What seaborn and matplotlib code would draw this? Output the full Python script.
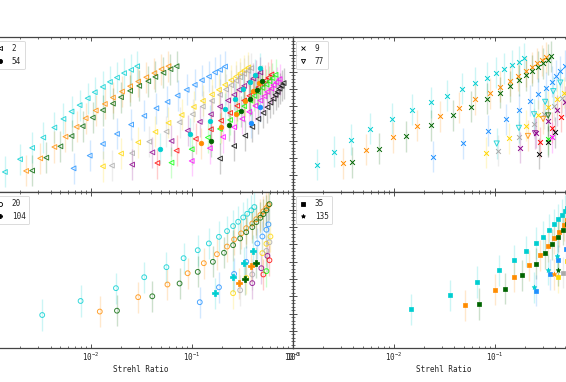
import numpy as np
import seaborn as sns
import matplotlib.pyplot as plt
from matplotlib.lines import Line2D
from matplotlib.ticker import MultipleLocator, AutoMinorLocator

# series colours (same order in every panel)
cyan, orange, green, blue, gold = 'darkturquoise', 'darkorange', 'darkgreen', 'dodgerblue', 'gold'
gray, purple, red, lime, mag, black = 'darkgray', 'darkmagenta', 'red', 'lime', 'magenta', 'black'

# ---- top left: hollow '<' (2) and filled 'o' (54); x = log10(Strehl ratio)
tl_tri_colors = [cyan, orange, green, blue, gold, gray, purple, red, lime, mag, black]
tl_tri_logsr = [
    [-2.85, -2.70, -2.58, -2.47, -2.36, -2.27, -2.19, -2.11, -2.03, -1.96, -1.88, -1.81, -1.74, -1.67, -1.60, -1.54],
    [-2.64, -2.50, -2.36, -2.25, -2.14, -2.05, -1.95, -1.86, -1.78, -1.69, -1.61, -1.53, -1.45, -1.37, -1.30, -1.23],
    [-2.58, -2.44, -2.30, -2.19, -2.08, -1.98, -1.88, -1.78, -1.70, -1.61, -1.52, -1.43, -1.36, -1.28, -1.21, -1.15],
    [-2.17, -2.01, -1.88, -1.74, -1.60, -1.47, -1.35, -1.24, -1.14, -1.05, -0.97, -0.90, -0.83, -0.77, -0.72, -0.67],
    [-1.88, -1.70, -1.53, -1.36, -1.23, -1.10, -0.98, -0.89, -0.80, -0.73, -0.67, -0.61, -0.56, -0.52, -0.48, -0.44],
    [-1.79, -1.59, -1.42, -1.25, -1.12, -0.99, -0.89, -0.80, -0.72, -0.66, -0.61, -0.56, -0.52, -0.48, -0.44, -0.41],
    [-1.59, -1.39, -1.20, -1.04, -0.92, -0.81, -0.72, -0.64, -0.58, -0.53, -0.48, -0.43, -0.39, -0.36, -0.32],
    [-1.34, -1.15, -0.96, -0.81, -0.71, -0.62, -0.55, -0.48, -0.43, -0.38, -0.34, -0.30, -0.27, -0.24, -0.21],
    [-1.20, -1.00, -0.84, -0.72, -0.62, -0.55, -0.48, -0.42, -0.38, -0.34, -0.30, -0.26, -0.23, -0.20, -0.17],
    [-1.00, -0.82, -0.69, -0.58, -0.50, -0.43, -0.37, -0.32, -0.28, -0.25, -0.21, -0.19, -0.16, -0.13],
    [-0.72, -0.58, -0.47, -0.40, -0.34, -0.29, -0.25, -0.22, -0.19, -0.17, -0.15, -0.13, -0.11, -0.09],
]
tl_tri_y = [
    [1.18, 1.92, 2.58, 3.18, 3.76, 4.26, 4.69, 5.06, 5.46, 5.81, 6.12, 6.41, 6.66, 6.92, 7.11, 7.32],
    [1.24, 1.97, 2.63, 3.23, 3.80, 4.30, 4.75, 5.13, 5.50, 5.85, 6.16, 6.43, 6.68, 6.92, 7.15, 7.32],
    [1.26, 2.01, 2.67, 3.27, 3.84, 4.34, 4.77, 5.15, 5.52, 5.89, 6.18, 6.45, 6.70, 6.94, 7.15, 7.32],
    [1.39, 2.13, 2.81, 3.39, 3.93, 4.44, 4.88, 5.25, 5.62, 5.95, 6.24, 6.51, 6.72, 6.96, 7.11, 7.30],
    [1.51, 2.25, 2.90, 3.51, 4.03, 4.49, 4.96, 5.31, 5.68, 5.95, 6.24, 6.51, 6.72, 6.92, 7.09, 7.25],
    [1.55, 2.27, 2.94, 3.52, 4.07, 4.53, 4.98, 5.31, 5.66, 5.97, 6.22, 6.47, 6.68, 6.88, 7.05, 7.21],
    [1.61, 2.32, 2.98, 3.58, 4.09, 4.53, 4.98, 5.33, 5.66, 5.95, 6.18, 6.41, 6.61, 6.78, 6.96],
    [1.70, 2.42, 3.10, 3.66, 4.16, 4.61, 5.02, 5.33, 5.60, 5.87, 6.10, 6.30, 6.49, 6.66, 6.84],
    [1.72, 2.50, 3.18, 3.68, 4.20, 4.63, 5.00, 5.33, 5.60, 5.83, 6.06, 6.26, 6.45, 6.63, 6.82],
    [1.82, 2.56, 3.21, 3.78, 4.26, 4.67, 5.02, 5.33, 5.58, 5.83, 6.02, 6.22, 6.39, 6.57],
    [1.96, 2.69, 3.29, 3.80, 4.26, 4.61, 4.94, 5.21, 5.44, 5.66, 5.83, 6.02, 6.18, 6.34],
]
tl_dot_colors = [cyan, orange, green, blue]
tl_dot_logsr = [
    [-1.31, -1.02, -0.82, -0.67, -0.57, -0.49, -0.42, -0.37, -0.32],
    [-0.91, -0.71, -0.56, -0.47, -0.39, -0.33],
    [-0.81, -0.63, -0.51, -0.42, -0.35, -0.30],
    [-0.41, -0.32],
]
tl_dot_y = [
    [2.52, 3.39, 4.16, 4.84, 5.44, 5.99, 6.43, 6.82, 7.19],
    [2.85, 3.78, 4.57, 5.29, 5.91, 6.37],
    [2.96, 3.89, 4.71, 5.40, 5.95, 6.49],
    [4.05, 4.98],
]

# ---- top right: 'x' (9) and hollow 'v' (77)
tr_x_colors = [cyan, orange, green, blue, gold, gray, purple, red, lime, mag, black]
tr_x_logsr = [
    [-2.76, -2.59, -2.42, -2.23, -2.02, -1.82, -1.63, -1.47, -1.32, -1.19, -1.08, -0.99, -0.91, -0.83, -0.76, -0.71],
    [-2.50, -2.27, -2.01, -1.77, -1.54, -1.35, -1.19, -1.05, -0.95, -0.85, -0.77, -0.69, -0.63, -0.58, -0.53, -0.49],
    [-2.41, -2.15, -1.88, -1.63, -1.41, -1.23, -1.08, -0.95, -0.85, -0.76, -0.69, -0.63, -0.57, -0.52, -0.47, -0.44],
    [-1.61, -1.31, -1.07, -0.89, -0.76, -0.65, -0.57, -0.49, -0.43, -0.39, -0.35, -0.30],
    [-1.09, -0.86, -0.69, -0.57, -0.47, -0.38, -0.31],
    [-0.97, -0.76, -0.61, -0.51, -0.41, -0.33],
    [-0.75, -0.59, -0.47, -0.38, -0.30],
    [-0.55, -0.43, -0.34],
    [-0.47],
    [-0.43],
    [-0.56, -0.47, -0.40],
]
tr_x_y = [
    [1.59, 2.36, 3.06, 3.70, 4.26, 4.78, 5.23, 5.62, 6.01, 6.35, 6.65, 6.94, 7.17, 7.38, 7.59, 7.79],
    [1.70, 2.48, 3.21, 3.85, 4.42, 4.92, 5.39, 5.75, 6.14, 6.47, 6.76, 7.03, 7.27, 7.48, 7.67, 7.85],
    [1.74, 2.54, 3.25, 3.89, 4.46, 4.96, 5.42, 5.79, 6.16, 6.51, 6.80, 7.07, 7.30, 7.50, 7.71, 7.89],
    [2.07, 2.85, 3.58, 4.24, 4.78, 5.31, 5.71, 6.08, 6.43, 6.76, 7.03, 7.34],
    [2.30, 3.14, 3.87, 4.46, 4.98, 5.40, 5.79],
    [2.40, 3.23, 3.97, 4.55, 5.02, 5.48],
    [2.59, 3.45, 4.16, 4.75, 5.25],
    [2.92, 3.76, 4.40],
    [3.08],
    [3.20],
    [2.25, 2.94, 3.49],
]
tr_v_colors = [cyan, orange, purple, green]
tr_v_logsr = [
    [-0.98, -0.76, -0.61, -0.50, -0.42, -0.35],
    [-0.67, -0.52],
    [-0.60],
    [-0.47],
]
tr_v_y = [
    [2.83, 3.74, 4.53, 5.25, 5.87, 6.37],
    [3.27, 4.26],
    [3.43],
    [4.46],
]

# ---- bottom left: hollow 'o' (20) and filled 'P' (104)
bl_o_colors = [cyan, orange, green, blue, gold, gray, purple, red, lime]
bl_o_logsr = [
    [-2.48, -2.10, -1.75, -1.47, -1.25, -1.08, -0.94, -0.83, -0.73, -0.65, -0.59, -0.54, -0.49, -0.45, -0.41, -0.38],
    [-1.91, -1.53, -1.24, -1.04, -0.88, -0.75, -0.65, -0.58, -0.51, -0.46, -0.40, -0.36, -0.32, -0.29, -0.26, -0.24],
    [-1.74, -1.39, -1.12, -0.94, -0.79, -0.68, -0.59, -0.52, -0.46, -0.40, -0.36, -0.32, -0.29, -0.26, -0.23],
    [-0.92, -0.73, -0.58, -0.46, -0.35, -0.30, -0.26, -0.24],
    [-0.59, -0.46, -0.30, -0.26, -0.22],
    [-0.52, -0.40, -0.26, -0.23],
    [-0.40, -0.31, -0.25],
    [-0.29, -0.23],
    [-0.26],
]
bl_o_y = [
    [1.92, 2.73, 3.47, 4.10, 4.68, 5.20, 5.66, 6.05, 6.43, 6.76, 7.05, 7.30, 7.55, 7.76, 7.96, 8.15],
    [2.12, 2.95, 3.68, 4.33, 4.91, 5.43, 5.87, 6.28, 6.63, 6.93, 7.20, 7.45, 7.69, 7.90, 8.09, 8.26],
    [2.17, 3.00, 3.74, 4.41, 4.99, 5.51, 5.95, 6.34, 6.70, 6.99, 7.28, 7.53, 7.74, 7.96, 8.32],
    [2.66, 3.52, 4.29, 4.99, 6.05, 6.45, 6.84, 7.15],
    [3.18, 4.06, 5.49, 6.03, 6.45],
    [3.35, 4.26, 5.62, 6.12],
    [3.76, 4.62, 5.33],
    [4.26, 5.08],
    [4.45],
]
bl_p_colors = [cyan, orange, green]
bl_p_logsr = [
    [-0.77, -0.59, -0.48, -0.39],
    [-0.53, -0.41],
    [-0.47, -0.36],
]
bl_p_y = [
    [3.18, 4.12, 4.95, 5.64],
    [3.76, 4.74],
    [3.97, 4.95],
]

# ---- bottom right: filled 's' (35) and '*' (135)
br_s_colors = [cyan, orange, green, blue, gold, gray]
br_s_logsr = [
    [-1.83, -1.44, -1.17, -0.96, -0.81, -0.69, -0.59, -0.52, -0.46, -0.41, -0.37, -0.33, -0.30, -0.28],
    [-1.29, -1.00, -0.81, -0.66, -0.55, -0.47, -0.41, -0.36, -0.31, -0.28],
    [-1.16, -0.90, -0.73, -0.59, -0.50, -0.43, -0.37, -0.32, -0.28],
    [-0.59, -0.45, -0.37, -0.29],
    [-0.37, -0.28],
    [-0.32],
]
br_s_y = [
    [2.25, 3.06, 3.83, 4.49, 5.08, 5.60, 6.07, 6.45, 6.82, 7.15, 7.44, 7.69, 7.92, 8.11],
    [2.48, 3.37, 4.12, 4.80, 5.37, 5.89, 6.36, 6.72, 7.09, 7.42],
    [2.56, 3.45, 4.22, 4.89, 5.49, 6.01, 6.45, 6.84, 7.18],
    [3.33, 4.26, 5.07, 5.72],
    [4.10, 5.05],
    [4.37],
]
br_star_colors = [cyan, orange, green]
br_star_logsr = [[-0.61, -0.47, -0.38], [-0.41], [-0.37]]
br_star_y = [[3.52, 4.53, 5.35], [4.26], [4.51]]

y_err = 0.9
x_ticks_left = [1e-2, 1e-1, 1]
x_ticks_right = [1e-3, 1e-2, 1e-1]

sns.set_style("white")
plt.rcParams['font.family'] = ['DejaVu Sans Mono', 'DejaVu Sans']
plt.rcParams['mathtext.fontset'] = 'custom'
plt.rcParams['mathtext.rm'] = 'DejaVu Sans Mono'
plt.rcParams['mathtext.it'] = 'DejaVu Sans Mono'
plt.rcParams['mathtext.bf'] = 'DejaVu Sans Mono:bold'


def draw_group(ax, marker, hollow, colors, logsr, yvals, size):
    for c, lx, yy in zip(colors, logsr, yvals):
        sr = np.power(10.0, np.array(lx))
        yy = np.array(yy)
        ax.errorbar(sr, yy, yerr=y_err, fmt='none', ecolor=c, alpha=0.2, elinewidth=1.0, zorder=1)
        if hollow:
            kw = dict(facecolor='none', edgecolor=c, linewidth=0.7, alpha=0.8)
        else:
            kw = dict(edgecolor=c, linewidth=0.5 if marker != 'x' else 0.7)
        sns.scatterplot(x=sr, y=yy, color=c, marker=marker, s=size, ax=ax, zorder=2, **kw)


def style_axes(ax, labels, handles, bottom, ticks):
    ax.set_xscale('log')
    ax.set_xlim(1e-3, 1)
    ax.set_ylim(0, 9)
    ax.set_xticks(ticks)
    ax.yaxis.set_major_locator(MultipleLocator(1))
    ax.yaxis.set_minor_locator(AutoMinorLocator(5))
    ax.tick_params(which='both', direction='in', top=True, right=True, bottom=True, left=True,
                   labelsize=5.5, pad=2, color='#333333')
    ax.tick_params(which='major', length=3, width=0.6)
    ax.tick_params(which='minor', length=1.6, width=0.5)
    ax.tick_params(labelbottom=bottom, labelleft=False)
    for sp in ax.spines.values():
        sp.set_color('#444444')
        sp.set_linewidth(0.9)
    if bottom:
        ax.set_xlabel('Strehl Ratio', fontsize=5.5, labelpad=1)
    leg = ax.legend(handles, labels, loc='upper left', fontsize=5.5, frameon=True, fancybox=True,
                    handlelength=1.0, handletextpad=1.0, borderaxespad=0.45, borderpad=0.45,
                    labelspacing=0.45)
    leg.get_frame().set_edgecolor('#cccccc')
    leg.get_frame().set_linewidth(0.6)


def handle(marker, hollow, ms=3):
    return Line2D([0], [0], marker=marker, ls='', color='k', ms=ms, mew=0.6,
                  mfc='none' if hollow else 'k')


fig = plt.figure(figsize=(5.66, 3.82), dpi=100)
ax_tl = fig.add_axes([-0.0182, 0.4966, 0.5353, 0.4058])
ax_tr = fig.add_axes([0.5171, 0.4966, 0.5353, 0.4058])
ax_bl = fig.add_axes([-0.0182, 0.0882, 0.5353, 0.4084])
ax_br = fig.add_axes([0.5171, 0.0882, 0.5353, 0.4084])

draw_group(ax_tl, '<', True, tl_tri_colors, tl_tri_logsr, tl_tri_y, 12)
draw_group(ax_tl, 'o', False, tl_dot_colors, tl_dot_logsr, tl_dot_y, 11)
style_axes(ax_tl, ['2', '54'], [handle('<', True), handle('o', False)], False, x_ticks_left)

draw_group(ax_tr, 'x', False, tr_x_colors, tr_x_logsr, tr_x_y, 12)
draw_group(ax_tr, 'v', True, tr_v_colors, tr_v_logsr, tr_v_y, 14)
style_axes(ax_tr, ['9', '77'], [handle('x', False), handle('v', True)], False, x_ticks_right)

draw_group(ax_bl, 'o', True, bl_o_colors, bl_o_logsr, bl_o_y, 12)
draw_group(ax_bl, 'P', False, bl_p_colors, bl_p_logsr, bl_p_y, 14)
style_axes(ax_bl, ['20', '104'], [handle('o', True), handle('P', False)], True, x_ticks_left)

draw_group(ax_br, 's', False, br_s_colors, br_s_logsr, br_s_y, 11)
draw_group(ax_br, '*', False, br_star_colors, br_star_logsr, br_star_y, 12)
style_axes(ax_br, ['35', '135'], [handle('s', False), handle('*', False)], True, x_ticks_right)

fig.savefig('out.png', dpi=100)
